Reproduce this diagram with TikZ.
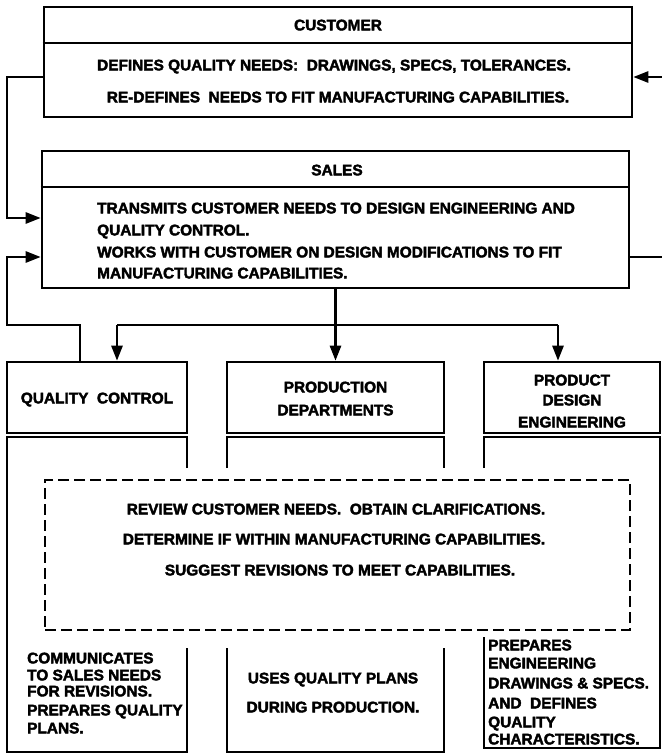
\documentclass[tikz,border=0pt]{standalone}
\usepackage{fontspec}
\setmainfont{Liberation Sans}[BoldFeatures={FakeBold=2.5}]
\usetikzlibrary{arrows.meta}
\begin{document}
\begin{tikzpicture}[x=1pt,y=-1pt,
  lbl/.style={font=\fontsize{15.4}{18}\selectfont\bfseries, inner sep=0pt, anchor=base},
  lbll/.style={lbl, anchor=base west},
  box/.style={draw, line width=2.6pt, inner sep=0pt},
  conn/.style={line width=2.6pt, line join=miter},
  arr/.style={conn, -{Triangle[length=15pt,width=11pt]}},
  dbox/.style={box, dash pattern=on 11pt off 5pt}]
\useasboundingbox (0,0) rectangle (662,756);

% ---- boxes ----
\node[box, minimum width=588pt, minimum height=110pt] (cust) at (338,62) {};
\coordinate (custdiv) at (0,43);
\draw[conn] (cust.west |- custdiv) -- (cust.east |- custdiv);

\node[box, minimum width=587pt, minimum height=137pt] (sales) at (335.5,219.5) {};
\coordinate (salesdiv) at (0,187);
\draw[conn] (sales.west |- salesdiv) -- (sales.east |- salesdiv);

\node[box, minimum width=180pt, minimum height=71pt] (qch) at (97,397.5) {};
\node[box, minimum width=217pt, minimum height=71pt] (pdh) at (335.5,397.5) {};
\node[box, minimum width=176pt, minimum height=71pt] (deh) at (572,397.5) {};

% lower bodies (broken where the dashed box passes)
\draw[conn] (187,468) -- (187,437) -- (7,437) -- (7,752) -- (187,752) -- (187,648);
\draw[conn] (227,468) -- (227,437) -- (444,437) -- (444,468);
\draw[conn] (227,648) -- (227,752) -- (444,752) -- (444,648);
\draw[conn] (484,468) -- (484,437) -- (660,437) -- (660,748) -- (484,748) -- (484,637);

% dashed review box
\node[dbox, minimum width=585pt, minimum height=150pt] (rev) at (337.5,555) {};

% ---- connectors ----
\coordinate (offR1) at (662,257);
\coordinate (offR2) at (662,77);
\draw[conn] (sales.east |- offR1) -- (offR1);
\draw[arr] (offR2) -- (cust.east |- offR2);

\coordinate (l1) at (7,77);
\coordinate (l2) at (7,218);
\draw[arr] (cust.west |- l1) -- (l1) -- (l2) -- (sales.west |- l2);

\coordinate (qcup) at (80,325);
\coordinate (lft) at (7,325);
\coordinate (in2) at (7,257);
\draw[arr] (qch.north -| qcup) -- (qcup) -- (lft) -- (in2) -- (sales.west |- in2);

\coordinate (bus1) at (117,325);
\coordinate (bus2) at (558,325);
\draw[conn] (bus1) -- (bus2);
\draw[arr] (bus1) -- (qch.north -| bus1);
\draw[arr] (bus2) -- (deh.north -| bus2);
\draw[arr] (sales.south) -- (sales.south |- pdh.north);

% ---- texts ----
\node[lbl] (t-cust) at (338,30.4) {CUSTOMER};
\node[lbl] (t-cu1) at (334,70.4) {DEFINES QUALITY NEEDS:\ \ DRAWINGS, SPECS, TOLERANCES.};
\node[lbl] (t-cu2) at (338,102.4) {RE-DEFINES\ \ NEEDS TO FIT MANUFACTURING CAPABILITIES.};

\node[lbl] (t-sales) at (337,175.4) {SALES};
\node[lbll] (t-sa1) at (97,213.4) {TRANSMITS CUSTOMER NEEDS TO DESIGN ENGINEERING AND};
\node[lbll] (t-sa2) at (97,235.4) {QUALITY CONTROL.};
\node[lbll] (t-sa3) at (97,257.4) {WORKS WITH CUSTOMER ON DESIGN MODIFICATIONS TO FIT};
\node[lbll] (t-sa4) at (97,278.4) {MANUFACTURING CAPABILITIES.};

\node[lbl] (t-qc) at (97,403.4) {QUALITY\ \ CONTROL};
\node[lbl] (t-pd1) at (335.5,392.4) {PRODUCTION};
\node[lbl] (t-pd2) at (335.5,415.4) {DEPARTMENTS};
\node[lbl] (t-de1) at (572,385.4) {PRODUCT};
\node[lbl] (t-de2) at (572,405.4) {DESIGN};
\node[lbl] (t-de3) at (572,427.4) {ENGINEERING};

\node[lbl] (t-rv1) at (336,514.4) {REVIEW CUSTOMER NEEDS.\ \ OBTAIN CLARIFICATIONS.};
\node[lbl] (t-rv2) at (334,544.4) {DETERMINE IF WITHIN MANUFACTURING CAPABILITIES.};
\node[lbl] (t-rv3) at (340,575.4) {SUGGEST REVISIONS TO MEET CAPABILITIES.};

\node[lbll] (t-qb1) at (27,663.4) {COMMUNICATES};
\node[lbll] (t-qb2) at (27,680.4) {TO SALES NEEDS};
\node[lbll] (t-qb3) at (27,696.4) {FOR REVISIONS.};
\node[lbll] (t-qb4) at (27,715.4) {PREPARES QUALITY};
\node[lbll] (t-qb5) at (27,733.4) {PLANS.};

\node[lbl] (t-pb1) at (333,683.4) {USES QUALITY PLANS};
\node[lbl] (t-pb2) at (333,712.4) {DURING PRODUCTION.};

\node[lbll] (t-db1) at (488,650.4) {PREPARES};
\node[lbll] (t-db2) at (488,668.4) {ENGINEERING};
\node[lbll] (t-db3) at (488,688.4) {DRAWINGS \& SPECS.};
\node[lbll] (t-db4) at (488,708.4) {AND\ \ DEFINES};
\node[lbll] (t-db5) at (488,727.4) {QUALITY};
\node[lbll] (t-db6) at (488,744.4) {CHARACTERISTICS.};
\end{tikzpicture}
\end{document}
